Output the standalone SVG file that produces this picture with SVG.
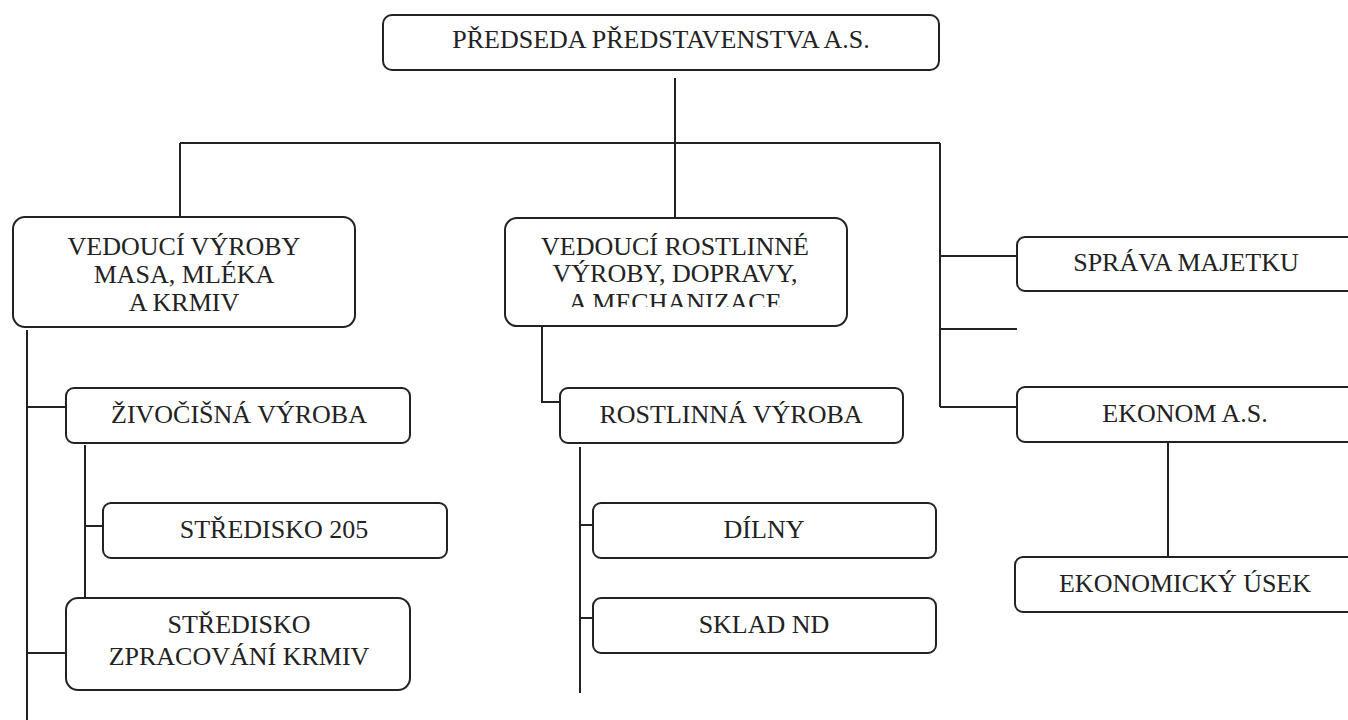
<svg xmlns="http://www.w3.org/2000/svg" width="1348" height="720" viewBox="0 0 1348 720">
<style>
.box{fill:#fff;stroke:#222;stroke-width:2}
.t{font-family:"Liberation Serif","Times New Roman",serif;font-size:26px;fill:#222;text-anchor:middle}
.c{fill:none;stroke:#222;stroke-width:2}
</style>
<defs>
<clipPath id="clipMech"><rect x="505" y="218" width="342" height="89"/></clipPath>
</defs>
<rect width="1348" height="720" fill="#fff"/>
<g id="connectors">
<path class="c" d="M675 78V143M180 143H940M180 143V217M675 143V218M940 143V407M940 256H1017M940 329H1017M940 407H1017M1168 442V557"/>
<path class="c" d="M27 330V720M27 407H66M27 653H66M85 445V598M85 526H103"/>
<path class="c" d="M542 326V402H560M580 447V693M580 525H593M580 618H593"/>
</g>
<g id="n-predseda">
<rect class="box" x="383" y="15" width="556" height="55" rx="9"/>
<text class="t" x="661" y="48">PŘEDSEDA PŘEDSTAVENSTVA A.S.</text>
</g>
<g id="n-vedouci-masa">
<rect class="box" x="13" y="217" width="342" height="110" rx="12"/>
<text class="t" x="184" y="255">VEDOUCÍ VÝROBY</text>
<text class="t" x="184" y="283">MASA, MLÉKA</text>
<text class="t" x="184" y="311">A KRMIV</text>
</g>
<g id="n-vedouci-rostlinne">
<rect class="box" x="505" y="218" width="342" height="108" rx="12"/>
<text class="t" x="675" y="255">VEDOUCÍ ROSTLINNÉ</text>
<text class="t" x="675" y="282">VÝROBY, DOPRAVY,</text>
<text class="t" x="675" y="311" clip-path="url(#clipMech)">A MECHANIZACE</text>
</g>
<g id="n-sprava">
<rect class="box" x="1017" y="237" width="343" height="54" rx="8"/>
<text class="t" x="1186" y="271">SPRÁVA MAJETKU</text>
</g>
<g id="n-ekonom">
<rect class="box" x="1017" y="387" width="343" height="55" rx="8"/>
<text class="t" x="1185" y="422">EKONOM A.S.</text>
</g>
<g id="n-ekonomicky-usek">
<rect class="box" x="1015" y="557" width="345" height="55" rx="8"/>
<text class="t" x="1185" y="592">EKONOMICKÝ ÚSEK</text>
</g>
<g id="n-zivocisna">
<rect class="box" x="66" y="388" width="344" height="55" rx="8"/>
<text class="t" x="239" y="423">ŽIVOČIŠNÁ VÝROBA</text>
</g>
<g id="n-stredisko205">
<rect class="box" x="103" y="503" width="344" height="55" rx="8"/>
<text class="t" x="274" y="538">STŘEDISKO 205</text>
</g>
<g id="n-stredisko-krmiv">
<rect class="box" x="66" y="598" width="344" height="92" rx="12"/>
<text class="t" x="239" y="633">STŘEDISKO</text>
<text class="t" x="239" y="665">ZPRACOVÁNÍ KRMIV</text>
</g>
<g id="n-rostlinna">
<rect class="box" x="560" y="388" width="343" height="55" rx="8"/>
<text class="t" x="731" y="423">ROSTLINNÁ VÝROBA</text>
</g>
<g id="n-dilny">
<rect class="box" x="593" y="503" width="343" height="55" rx="8"/>
<text class="t" x="764" y="538">DÍLNY</text>
</g>
<g id="n-sklad">
<rect class="box" x="593" y="598" width="343" height="55" rx="8"/>
<text class="t" x="764" y="633">SKLAD ND</text>
</g>
</svg>
